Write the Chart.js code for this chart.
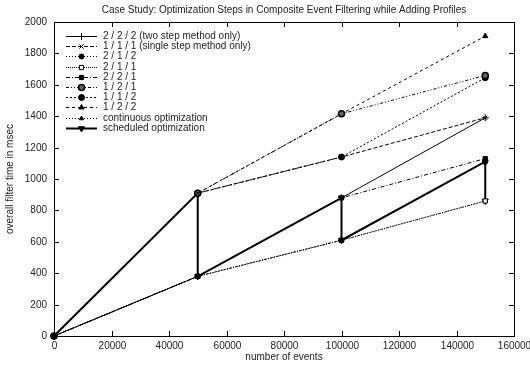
<!DOCTYPE html>
<html>
<head>
<meta charset="utf-8">
<script src="https://cdn.jsdelivr.net/npm/chart.js@4.4.0/dist/chart.umd.min.js"></script>
<style>
  html, body { margin: 0; padding: 0; background: #fff; }
  #wrap { width: 530px; height: 370px; }
</style>
</head>
<body>
<div id="wrap"><canvas id="chart" width="530" height="370"></canvas></div>
<script>
// data
const events = [0, 50000, 100000, 150000];
const s222 = [0, 380, 880, 1390];
const s111 = [0, 910, 1140, 1390];
const s212 = [0, 380, 610, 1110];
const s211 = [0, 380, 610, 860];
const s221 = [0, 380, 880, 1130];
const s121 = [0, 910, 1415, 1660];
const s112 = [0, 910, 1140, 1645];
const s122 = [0, 910, 1415, 1910];
const continuous = [0, 380, 610, 860];
const schedEvents = [0, 50000, 50000, 100000, 100000, 150000, 150000];
const scheduled = [0, 910, 380, 880, 610, 1110, 860];

const xTicks = [0, 20000, 40000, 60000, 80000, 100000, 120000, 140000, 160000];
const yTicks = [0, 200, 400, 600, 800, 1000, 1200, 1400, 1600, 1800, 2000];

const FONT = '"Liberation Sans", Arial, sans-serif';

const pts = (xs, ys) => xs.map((x, i) => ({ x: x, y: ys[i] }));

// one dataset per legend row
function series(label, xs, ys, dash, style, opts) {
  return Object.assign({
    label: label,
    data: pts(xs, ys),
    showLine: true,
    borderColor: '#000',
    backgroundColor: '#000',
    borderWidth: 1,
    borderDash: dash,
    pointStyle: style,
    pointRadius: 3,
    pointBorderColor: '#000',
    pointBorderWidth: 1,
    pointBackgroundColor: '#000',
    clip: false
  }, opts || {});
}

const datasets = [
  series('2 / 2 / 2 (two step method only)', events, s222, [], 'cross', { pointRadius: 3.5 }),
  series('1 / 1 / 1 (single step method only)', events, s111, [4, 2], 'crossRot'),
  series('2 / 1 / 2', events, s212, [1, 2], 'star', { pointBorderWidth: 1.5 }),
  series('2 / 1 / 1', events, s211, [1, 1], 'rect', { pointBackgroundColor: '#fff' }),
  series('2 / 2 / 1', events, s221, [4, 2, 1, 2], 'rect'),
  series('1 / 2 / 1', events, s121, [3, 2, 1, 2, 1, 2], 'circle', { pointBackgroundColor: '#666', pointBorderWidth: 1.5 }),
  series('1 / 1 / 2', events, s112, [2, 2], 'circle'),
  series('1 / 2 / 2', events, s122, [3, 3], 'triangle'),
  series('continuous optimization', events, continuous, [1, 2], 'triangle', { pointRadius: 2.5 }),
  series('scheduled optimization', schedEvents, scheduled, [], 'triangle', { borderWidth: 2, pointRotation: 180, pointRadius: 3.5 })
];

// gnuplot-like frame, inward ticks, labels and legend
const framePlugin = {
  id: 'frame',
  afterDatasetsDraw(chart) {
    const ctx = chart.ctx;
    const { left, right, top, bottom } = chart.chartArea;
    const xs = chart.scales.x, ys = chart.scales.y;
    ctx.save();
    ctx.setLineDash([]);
    ctx.strokeStyle = '#000';
    ctx.lineWidth = 1;
    ctx.strokeRect(left + 0.5, top + 0.5, right - left, bottom - top);

    ctx.fillStyle = '#222';
    ctx.font = '10px ' + FONT;
    // x ticks
    ctx.textAlign = 'center';
    ctx.textBaseline = 'top';
    xTicks.forEach(v => {
      const px = Math.round(xs.getPixelForValue(v)) + 0.5;
      ctx.beginPath();
      ctx.moveTo(px, bottom); ctx.lineTo(px, bottom - 5);
      ctx.moveTo(px, top); ctx.lineTo(px, top + 5);
      ctx.stroke();
      ctx.fillText(String(v), px, bottom + 5);
    });
    // y ticks
    ctx.textAlign = 'right';
    ctx.textBaseline = 'middle';
    yTicks.forEach(v => {
      const py = Math.round(ys.getPixelForValue(v)) + 0.5;
      ctx.beginPath();
      ctx.moveTo(left, py); ctx.lineTo(left + 5, py);
      ctx.moveTo(right, py); ctx.lineTo(right - 5, py);
      ctx.stroke();
      ctx.fillText(String(v), left - 7, py);
    });

    // titles
    ctx.textAlign = 'center';
    ctx.fillText('number of events', (left + right) / 2, 357);
    ctx.fillText('Case Study: Optimization Steps in Composite Event Filtering while Adding Profiles', (left + right) / 2, 10);
    ctx.save();
    ctx.translate(10, (top + bottom) / 2);
    ctx.rotate(-Math.PI / 2);
    ctx.fillText('overall filter time in msec', 0, 0);
    ctx.restore();

    // legend
    const lx0 = 66, lx1 = 97, ly0 = 36, step = 10.2;
    chart.data.datasets.forEach((ds, i) => {
      const y = Math.round(ly0 + i * step) + 0.5;
      ctx.strokeStyle = '#000';
      ctx.lineWidth = ds.borderWidth;
      ctx.setLineDash(ds.borderDash);
      ctx.beginPath();
      ctx.moveTo(lx0, y); ctx.lineTo(lx1, y);
      ctx.stroke();
      ctx.setLineDash([]);
      ctx.lineWidth = ds.pointBorderWidth;
      ctx.fillStyle = ds.pointBackgroundColor;
      Chart.helpers.drawPoint(ctx, {
        pointStyle: ds.pointStyle,
        radius: ds.pointRadius,
        rotation: ds.pointRotation || 0,
        borderWidth: ds.pointBorderWidth
      }, (lx0 + lx1) / 2, y);
      ctx.fillStyle = '#222';
      ctx.textAlign = 'left';
      ctx.fillText(ds.label, 103, y);
    });
    ctx.restore();
  }
};

new Chart(document.getElementById('chart'), {
  type: 'scatter',
  data: { datasets: datasets },
  options: {
    responsive: false,
    animation: false,
    layout: { padding: { left: 54, right: 16, top: 22, bottom: 34 } },
    scales: {
      x: { type: 'linear', min: 0, max: 160000, display: false },
      y: { type: 'linear', min: 0, max: 2000, display: false }
    },
    plugins: {
      legend: { display: false },
      title: { display: false },
      tooltip: { enabled: false }
    }
  },
  plugins: [framePlugin]
});
</script>
</body>
</html>
